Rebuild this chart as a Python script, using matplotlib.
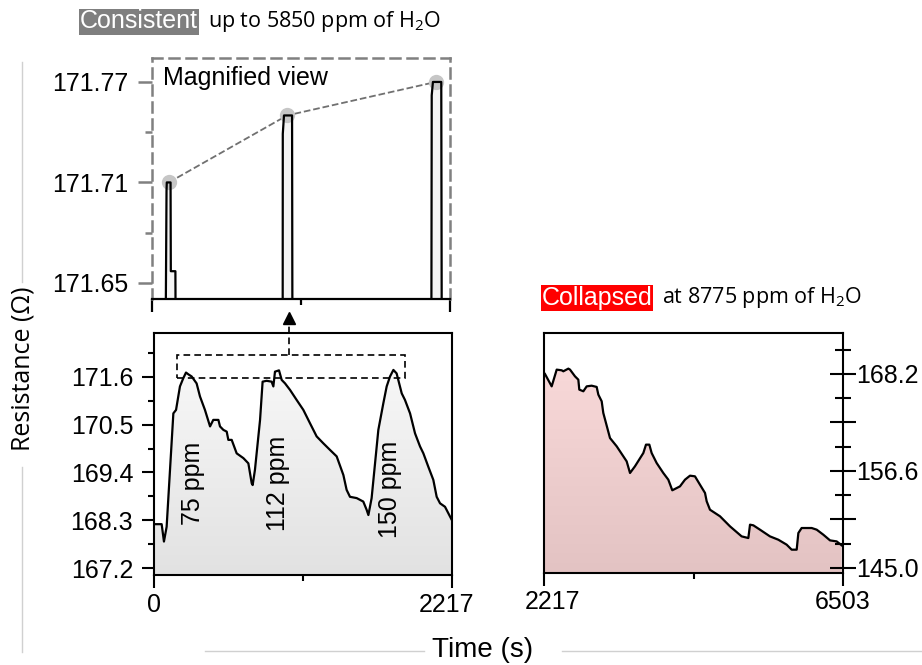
import numpy as np
import matplotlib
matplotlib.use("Agg")
import matplotlib.pyplot as plt
from matplotlib import font_manager
from matplotlib.colors import to_rgb
from matplotlib.patches import Polygon, Rectangle
from matplotlib.lines import Line2D
from matplotlib.transforms import ScaledTranslation

# ---------------- data ----------------
# magnified view of the peak tops (first segment)
zoom_t = [0, 100, 108, 110, 138, 140, 174, 177, 972, 973, 982, 1042, 1045,
          2078, 2081, 2090, 2152, 2156, 2217]
zoom_r = [171.60, 171.60, 171.705, 171.71, 171.71, 171.657, 171.657, 171.60,
          171.60, 171.739, 171.75, 171.75, 171.60,
          171.60, 171.762, 171.77, 171.77, 171.60, 171.60]
peak_t = [125, 1005, 2112]
peak_r = [171.71, 171.75, 171.77]

# consistent segment, 0-2217 s
seg1_t = [7, 57, 74, 94, 144, 164, 193, 218, 238, 255, 280, 317, 342, 379, 417,
          441, 479, 491, 516, 541, 553, 578, 615, 665, 702, 727, 734, 751, 789,
          808, 838, 875, 888, 900, 930, 950, 975, 1012, 1061, 1111, 1161, 1210,
          1260, 1309, 1359, 1409, 1433, 1458, 1508, 1557, 1582, 1595, 1619,
          1669, 1706, 1731, 1756, 1781, 1805, 1843, 1867, 1905, 1942, 1979,
          2004, 2041, 2078, 2103, 2128, 2165, 2215]
seg1_r = [168.21, 168.21, 167.81, 168.15, 170.76, 170.84, 171.38, 171.57, 171.70,
          171.66, 171.61, 171.45, 171.15, 170.84, 170.46, 170.61, 170.61, 170.46,
          170.38, 170.34, 170.15, 170.15, 169.84, 169.73, 169.61, 169.15, 169.11,
          169.46, 170.61, 171.49, 171.51, 171.49, 171.38, 171.72, 171.75, 171.53,
          171.45, 171.30, 171.07, 170.84, 170.53, 170.23, 170.07, 169.92, 169.77,
          169.34, 169.00, 168.84, 168.81, 168.73, 168.54, 168.42, 168.81, 170.38,
          170.99, 171.38, 171.61, 171.76, 171.68, 171.22, 171.07, 170.76, 170.30,
          170.00, 169.84, 169.53, 169.23, 168.84, 168.69, 168.61, 168.31]
ppm_labels = ["75 ppm", "112 ppm", "150 ppm"]
ppm_t = [290, 922, 1756]
ppm_r = [169.16, 169.16, 169.0]

# collapsed segment, 2217-6503 s
seg2_t = [2231, 2327, 2399, 2470, 2494, 2566, 2590, 2661, 2709, 2723, 2781, 2829,
          2900, 2972, 2996, 3044, 3067, 3163, 3259, 3402, 3450, 3521, 3641, 3679,
          3727, 3760, 3832, 3927, 3999, 4056, 4166, 4238, 4310, 4381, 4453, 4525,
          4549, 4596, 4740, 4883, 5050, 5146, 5170, 5218, 5313, 5456, 5576, 5695,
          5767, 5839, 5863, 5910, 6054, 6126, 6221, 6317, 6412, 6484]
seg2_r = [168.20, 166.72, 168.72, 168.64, 168.52, 168.84, 168.72, 167.92, 167.52,
          166.33, 166.13, 166.72, 166.80, 166.65, 165.73, 164.93, 163.54, 160.54,
          159.55, 157.75, 156.36, 157.16, 158.75, 159.75, 159.75, 158.75, 157.55,
          156.36, 155.56, 154.29, 154.76, 155.56, 156.04, 155.96, 154.96, 153.97,
          152.97, 151.97, 151.18, 149.98, 148.78, 148.58, 150.18, 150.10, 149.58,
          148.78, 148.38, 147.79, 147.19, 147.19, 149.18, 149.78, 149.78, 149.58,
          148.98, 148.30, 148.18, 147.71]

zoom_yticks = [171.65, 171.71, 171.77]
seg1_yticks = [167.2, 168.3, 169.4, 170.5, 171.6]
seg2_yticks = [145.0, 150.8, 156.6, 162.4, 168.2]
seg2_ylabels = ["145.0", "", "156.6", "", "168.2"]
seg1_xticks = [0, 2217]
seg2_xticks = [2217, 6503]


# ---------------- fonts ----------------
def pick(*names):
    avail = {f.name for f in font_manager.fontManager.ttflist}
    for n in names:
        if n in avail:
            return n
    return "DejaVu Sans"


ARIAL = pick("Liberation Sans", "Arial")
SOFT = pick("Open Sans", "Lato", "Noto Sans")
plt.rcParams["font.family"] = [ARIAL, "DejaVu Sans"]
plt.rcParams["mathtext.fontset"] = "custom"
plt.rcParams["mathtext.rm"] = SOFT
plt.rcParams["mathtext.it"] = SOFT
plt.rcParams["axes.linewidth"] = 1.5

W, H = 922, 665
fig = plt.figure(figsize=(W / 100, H / 100), dpi=100)


def px_rect(left, top, right, bottom):
    return [left / W, 1 - bottom / H, (right - left) / W, (bottom - top) / H]


def gradient_fill(ax, t, r, base, top_color, bottom_color, ylim):
    xs = np.concatenate([[t[0]], t, [t[-1]]])
    ys = np.concatenate([[base], r, [base]])
    poly = Polygon(np.column_stack([xs, ys]), closed=True,
                   facecolor="none", edgecolor="none")
    ax.add_patch(poly)
    c0, c1 = np.array(to_rgb(top_color)), np.array(to_rgb(bottom_color))
    frac = np.linspace(0, 1, 256)[:, None]
    img = (c0 * (1 - frac) + c1 * frac)[:, None, :]
    im = ax.imshow(img, extent=[t[0], t[-1], ylim[0], ylim[1]],
                   aspect="auto", origin="upper", zorder=1,
                   interpolation="bilinear")
    im.set_clip_path(poly)


def shift_label(label, dx_px):
    label.set_transform(label.get_transform() +
                        ScaledTranslation(dx_px / 100, 0, fig.dpi_scale_trans))


GRAY = "#808080"
DASH = (0, (4, 2.8))

# ---------------- magnified view ----------------
ax_z = fig.add_axes(px_rect(152, 58, 450, 299))
z_ylim = (171.6404, 171.7843)
ax_z.fill_between(zoom_t, zoom_r, z_ylim[0] - 0.05, color="#f4f4f4", zorder=1)
ax_z.plot(peak_t, peak_r, ls="--", color="#707070", lw=1.3, zorder=2)
ax_z.plot(peak_t, peak_r, "o", ms=11, color="#c6c6c6", mec="none", zorder=2)
ax_z.plot(zoom_t, zoom_r, color="black", lw=1.6, zorder=3)
ax_z.set_xlim(0, 2217)
ax_z.set_ylim(*z_ylim)
for side in ("left", "top", "right"):
    ax_z.spines[side].set_color(GRAY)
    ax_z.spines[side].set_linestyle(DASH)
    ax_z.spines[side].set_linewidth(1.8)
ax_z.spines["bottom"].set_linewidth(1.6)
ax_z.set_yticks(zoom_yticks)
ax_z.set_yticklabels([f"{v:.2f}" for v in zoom_yticks])
ax_z.set_yticks([171.68, 171.74], minor=True)
ax_z.tick_params(axis="y", which="major", direction="out", length=10, width=1.8,
                 color=GRAY, labelsize=18, pad=7)
ax_z.tick_params(axis="y", which="minor", direction="out", length=5, width=1.8,
                 color=GRAY)
ax_z.set_xticks(seg1_xticks)
ax_z.set_xticklabels([])
ax_z.set_xticks([1108.5], minor=True)
ax_z.tick_params(axis="x", which="major", direction="out", length=9.5, width=1.6)
ax_z.tick_params(axis="x", which="minor", direction="out", length=4, width=1.6)
ax_z.text(0.037, 0.917, "Magnified view", transform=ax_z.transAxes,
          fontsize=18, ha="left", va="center")

# ---------------- consistent segment ----------------
ax1 = fig.add_axes(px_rect(154, 333, 452, 575))
y1 = (167.04, 172.61)
gradient_fill(ax1, np.array(seg1_t, float), np.array(seg1_r), y1[0],
              "#fbfbfb", "#e2e2e2", y1)
ax1.plot(seg1_t, seg1_r, color="black", lw=1.6, zorder=3)
ax1.set_xlim(0, 2217)
ax1.set_ylim(*y1)
ax1.set_yticks(seg1_yticks)
ax1.set_yticklabels([f"{v:.1f}" for v in seg1_yticks])
ax1.set_yticks([167.75, 168.85, 169.95, 171.05, 172.15], minor=True)
ax1.tick_params(axis="y", which="major", direction="out", length=8.5, width=1.5,
                labelsize=18, pad=6.5)
ax1.tick_params(axis="y", which="minor", direction="out", length=4.5, width=1.5)
ax1.set_xticks(seg1_xticks)
ax1.set_xticklabels([str(v) for v in seg1_xticks])
ax1.set_xticks([1108.5], minor=True)
ax1.tick_params(axis="x", which="major", direction="out", length=9, width=1.5,
                labelsize=18, pad=4)
ax1.tick_params(axis="x", which="minor", direction="out", length=4, width=1.5)
for lab, t, r in zip(ppm_labels, ppm_t, ppm_r):
    ax1.text(t, r, lab, rotation=90, fontsize=18, ha="center", va="center",
             zorder=4)
# region shown magnified above, with a pointer up to it
ax1.add_patch(Rectangle((171, 171.58), 1867 - 171, 172.11 - 171.58, fill=False,
                        ls=(0, (4, 2.5)), lw=1.2, color="black", zorder=4))
ax1.plot([1004, 1004], [172.11, 172.87], ls=(0, (4, 2.5)), lw=1.2,
         color="black", clip_on=False, zorder=4)
ax1.plot([1004], [172.96], marker="^", ms=9, color="black", clip_on=False,
         zorder=4)

# ---------------- collapsed segment ----------------
ax2 = fig.add_axes(px_rect(544, 333, 843, 573))
y2 = (144.40, 173.10)
gradient_fill(ax2, np.array(seg2_t, float), np.array(seg2_r), y2[0],
              "#fcdcdc", "#e3c3c3", y2)
ax2.plot(seg2_t, seg2_r, color="black", lw=1.6, zorder=3)
ax2.set_xlim(2217, 6503)
ax2.set_ylim(*y2)
ax2.yaxis.tick_right()
ax2.set_yticks(seg2_yticks)
ax2.set_yticklabels(seg2_ylabels)
ax2.set_yticks([147.9, 153.7, 159.5, 165.3, 171.1], minor=True)
ax2.tick_params(axis="y", which="major", direction="inout", length=19, width=1.5,
                labelsize=18, pad=0)
ax2.tick_params(axis="y", which="minor", direction="inout", length=12, width=1.5)
ax2.set_xticks(seg2_xticks)
ax2.set_xticklabels([str(v) for v in seg2_xticks])
ax2.set_xticks([4360], minor=True)
ax2.tick_params(axis="x", which="major", direction="out", length=9, width=1.5,
                labelsize=18, pad=3)
ax2.tick_params(axis="x", which="minor", direction="out", length=4, width=1.5)

# nudge the two touching "2217" labels apart
shift_label(ax1.get_xticklabels()[-1], -5)
shift_label(ax2.get_xticklabels()[0], 9)


# ---------------- headings and shared labels ----------------
def fx(x):
    return x / W


def fy(y):
    return 1 - y / H


fig.text(fx(139), fy(21.5), "Consistent", fontsize=18, color="white",
         ha="center", va="center",
         bbox=dict(boxstyle="square,pad=0.04", fc="#7f7f7f", ec="none"))
fig.text(fx(208), fy(21.5), r"up to 5850 ppm of H$_\mathrm{2}$O",
         fontsize=15.5, family=SOFT, ha="left", va="center")
fig.text(fx(597), fy(297.5), "Collapsed", fontsize=18, color="white",
         ha="center", va="center",
         bbox=dict(boxstyle="square,pad=0.04", fc="#ff0000", ec="none"))
fig.text(fx(662), fy(297.5), r"at 8775 ppm of H$_\mathrm{2}$O",
         fontsize=15.5, family=SOFT, ha="left", va="center")

fig.text(fx(23), fy(369), "Resistance (Ω)", rotation=90, fontsize=18,
         family=SOFT, ha="center", va="center")
fig.add_artist(Line2D([fx(22), fx(22)], [fy(62), fy(282)], color="#d0d0d0",
                      lw=1.0))
fig.add_artist(Line2D([fx(22), fx(22)], [fy(467), fy(652)], color="#d0d0d0",
                      lw=1.0))

fig.text(fx(483), fy(650), "Time (s)", fontsize=20, ha="center", va="center")
fig.add_artist(Line2D([fx(205), fx(424)], [fy(651), fy(651)], color="#d0d0d0",
                      lw=1.0))
fig.add_artist(Line2D([fx(562), fx(922)], [fy(651), fy(651)], color="#d0d0d0",
                      lw=1.0))

fig.savefig("out.png", dpi=100)
